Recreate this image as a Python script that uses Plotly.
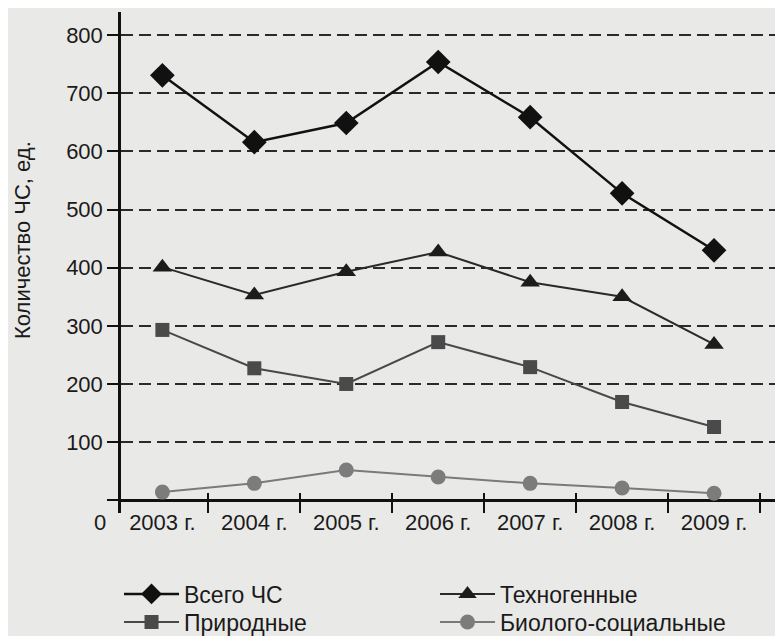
import plotly.graph_objects as go

years = ["2003 г.", "2004 г.", "2005 г.", "2006 г.", "2007 г.", "2008 г.", "2009 г."]
total = [731, 616, 649, 754, 659, 528, 430]
techno = [401, 353, 393, 427, 375, 350, 268]
natural = [293, 227, 200, 272, 229, 169, 126]
biosocial = [14, 29, 52, 40, 29, 21, 12]
y_ticks = [0, 100, 200, 300, 400, 500, 600, 700, 800]
y_ticktext = ["", "100", "200", "300", "400", "500", "600", "700", "800"]

FONT = "Liberation Sans, Arial, sans-serif"
BG = "#e9e9e7"
FS = 22
LFS = 23

fig = go.Figure()
fig.add_trace(go.Scatter(x=years, y=total, name="Всего ЧС", mode="lines+markers",
                         legend="legend",
                         line=dict(color="#111111", width=2.5),
                         marker=dict(symbol="diamond", size=19, color="#111111")))
fig.add_trace(go.Scatter(x=years, y=techno, name="Техногенные", mode="lines+markers",
                         legend="legend",
                         line=dict(color="#2a2a2a", width=2),
                         marker=dict(symbol="triangle-up", size=17, color="#1c1c1c")))
fig.add_trace(go.Scatter(x=years, y=natural, name="Природные", mode="lines+markers",
                         legend="legend2",
                         line=dict(color="#484848", width=2),
                         marker=dict(symbol="square", size=14, color="#4a4a4a")))
fig.add_trace(go.Scatter(x=years, y=biosocial, name="Биолого-социальные", mode="lines+markers",
                         legend="legend2",
                         line=dict(color="#7a7a7a", width=2),
                         marker=dict(symbol="circle", size=15, color="#7c7c7c")))

legend_common = dict(orientation="h", x=-0.003, xanchor="left", yanchor="middle",
                     entrywidth=246, entrywidthmode="pixels", itemwidth=55,
                     font=dict(size=LFS), bgcolor="rgba(0,0,0,0)")

fig.update_layout(
    width=775, height=628,
    margin=dict(l=113, r=0, t=4, b=123, autoexpand=False),
    paper_bgcolor=BG, plot_bgcolor=BG,
    font=dict(family=FONT, size=FS, color="#1a1a1a"),
    showlegend=True,
    legend=dict(y=-0.1617, **legend_common),
    legend2=dict(y=-0.2176, **legend_common),
    xaxis=dict(type="category", range=[-0.45, 6.75], tickson="boundaries",
               ticks="inside", ticklen=20, tickwidth=2, tickcolor="#111111",
               showgrid=False, showline=False, zeroline=False, automargin=False,
               ticklabelstandoff=-6, tickfont=dict(size=FS)),
    yaxis=dict(range=[-22, 840], tickvals=y_ticks, ticktext=y_ticktext,
               ticks="outside", ticklen=11, tickwidth=2, tickcolor="#111111",
               showgrid=True, gridcolor="#2a2a2a", gridwidth=1.5, griddash="12px,6px",
               showline=True, linecolor="#111111", linewidth=2.5, automargin=False,
               zeroline=True, zerolinecolor="#111111", zerolinewidth=2.5,
               tickfont=dict(size=FS)),
    annotations=[
        dict(text="Количество ЧС, ед.", textangle=-90, xref="paper", yref="paper",
             x=-0.148, y=0.545, xanchor="center", yanchor="middle",
             showarrow=False, font=dict(size=FS)),
        dict(text="0", xref="paper", yref="paper", x=-0.032, y=-0.018,
             xanchor="center", yanchor="middle", showarrow=False, font=dict(size=FS)),
    ],
)

fig.write_html("out.html")
